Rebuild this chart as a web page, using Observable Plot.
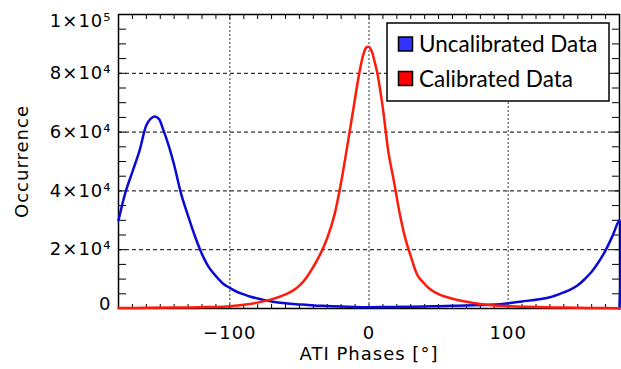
<!DOCTYPE html>
<html><head><meta charset="utf-8">
<script src="https://cdn.jsdelivr.net/npm/d3@7"></script>
<script src="https://cdn.jsdelivr.net/npm/@observablehq/plot@0.6"></script>
<style>
body{margin:0;background:#fff;}
#chart{width:621px;height:369px;}
#aux{position:absolute;left:0;top:0;width:1px;height:1px;font-size:1px;color:#fff;margin:0;}
</style>
</head><body><div id="chart"></div><pre id="aux"> </pre>
<script>
// Uncalibrated data (blue)
const uncalPhase = [-180,-175,-170,-165,-160,-157,-154,-151,-148,-144,-140,-135,-130,-125,-120,-115,-110,-105,-100,-95,-90,-85,-80,-75,-70,-60,-50,-40,-30,-20,-10,0,10,20,30,40,50,60,70,80,90,100,110,120,130,140,145,150,155,160,165,170,175,180,180];
const uncalCount = [30000,39500,46500,53500,62300,64500,65300,64500,61000,55500,48800,39000,31500,24500,18500,14000,11000,8500,7000,5700,4800,4000,3400,2850,2400,1800,1400,1050,850,650,520,450,480,550,620,700,800,900,1000,1150,1320,1800,2400,3000,3800,5500,6500,7900,10000,12500,15800,19800,24700,30000,0];
// Calibrated data (red)
const calPhase = [-180,-160,-140,-120,-110,-100,-90,-80,-70,-60,-55,-50,-45,-40,-35,-30,-25,-20,-15,-10,-7,-4,-2,0,2,4,6,10,14,18,22,26,30,35,40,45,50,55,60,70,80,90,100,110,120,140,160,180];
const calCount = [150,220,320,450,550,800,1250,2000,3100,4800,6000,7800,10500,14200,18500,24000,31500,43000,57000,71500,80000,86500,88800,89000,87500,84000,80000,68000,53000,43000,32500,24000,17800,11200,8300,6200,4900,4000,3300,2300,1550,1050,800,600,480,330,200,120];

const yTickValues = [0,20000,40000,60000,80000,100000];
const yTickLabels = ["0","2×10⁴","4×10⁴","6×10⁴","8×10⁴","1×10⁵"];
const xTickValues = [-100,0,100];
const xTickLabels = ["−100","0","100"];
const yMinorTicks = d3.range(0,100001,5000);
const xMinorTicks = d3.range(-180,181,10);
const seriesNames = ["Uncalibrated Data","Calibrated Data"];
const seriesColors = ["#3333ff","#ff0000"];
const lineColors = ["#0a0ad6","#ff1a0a"];

const uncal = uncalPhase.map((x,i)=>({x, y: uncalCount[i]}));
const cal = calPhase.map((x,i)=>({x, y: calCount[i]}));

const W=621,H=369,ML=118,MR=2,MT=14,MB=61;
const font = {fontFamily:"DejaVu Sans", fontSize:18, fill:"#000"};
const noText = () => "";

const yIdx = d3.range(yTickValues.length);
const plot = Plot.plot({
  width:W, height:H, marginLeft:ML, marginRight:MR, marginTop:MT, marginBottom:MB,
  style:{fontFamily:"DejaVu Sans", fontSize:"18px", background:"#fff", color:"#000", letterSpacing:"1px"},
  x:{domain:[-180,180], axis:null},
  y:{domain:[0,100000], axis:null},
  marks:[
    Plot.gridY(yTickValues.slice(1,-1), {stroke:"#000", strokeOpacity:1, strokeDasharray:"4,3", strokeWidth:1}),
    Plot.gridX(xTickValues, {stroke:"#555", strokeOpacity:1, strokeDasharray:"2,2", strokeWidth:1.2}),
    Plot.axisY(yMinorTicks, {anchor:"left", tickSize:8, dx:8, tickFormat:noText, label:null, stroke:"#000"}),
    Plot.axisY(yMinorTicks, {anchor:"right", tickSize:8, dx:-8, tickFormat:noText, label:null, stroke:"#000"}),
    Plot.axisX(xMinorTicks, {anchor:"bottom", tickSize:4, dy:-4, tickFormat:noText, label:null, stroke:"#000"}),
    Plot.axisX(xMinorTicks, {anchor:"top", tickSize:4, dy:4, tickFormat:noText, label:null, stroke:"#000"}),
    Plot.frame({stroke:"#000", strokeWidth:1.5}),
    Plot.line(uncal, {x:"x", y:"y", stroke:lineColors[0], strokeWidth:2.5, curve:"catmull-rom"}),
    Plot.line(cal, {x:"x", y:"y", stroke:lineColors[1], strokeWidth:2.5, curve:"catmull-rom"}),
    Plot.text(yIdx.slice(1,-1), {y:i=>yTickValues[i], text:i=>yTickLabels[i], frameAnchor:"left", dx:-7, textAnchor:"end", ...font}),
    Plot.text([0], {y:i=>yTickValues[i], text:i=>yTickLabels[i], frameAnchor:"left", dx:-7, dy:-4, textAnchor:"end", ...font}),
    Plot.text([5], {y:i=>yTickValues[i], text:i=>yTickLabels[i], frameAnchor:"left", dx:-7, dy:7, textAnchor:"end", ...font}),
    Plot.text(d3.range(xTickValues.length), {x:i=>xTickValues[i], text:i=>xTickLabels[i], frameAnchor:"bottom", lineAnchor:"middle", textAnchor:"middle", dy:25, ...font}),
    Plot.text(["ATI Phases [°]"], {frameAnchor:"bottom", lineAnchor:"middle", textAnchor:"middle", dy:46, ...font, letterSpacing:"3px"}),
    Plot.text(["Occurrence"], {frameAnchor:"left", lineAnchor:"middle", textAnchor:"middle", dx:-96, rotate:-90, ...font})
  ]
});
document.getElementById("chart").appendChild(plot);

const svg = d3.select(plot);

// legend
const lg = svg.append("g").attr("text-anchor","start");
lg.append("rect").attr("x",387).attr("y",23).attr("width",222).attr("height",78)
  .attr("fill","#fff").attr("stroke","#000").attr("stroke-width",1.5);
seriesNames.forEach((name,i)=>{
  const y0 = 37 + i*34.5;
  lg.append("rect").attr("x",398.5).attr("y",y0).attr("width",14).attr("height",14)
    .attr("fill",seriesColors[i]).attr("stroke","#000").attr("stroke-width",1.5);
  lg.append("text").attr("x",419).attr("y",y0+15).text(name).attr("text-anchor","start")
    .attr("font-family","Lato, sans-serif").attr("font-size",22.5).attr("letter-spacing",0).attr("fill","#000");
});
</script>
</body></html>
